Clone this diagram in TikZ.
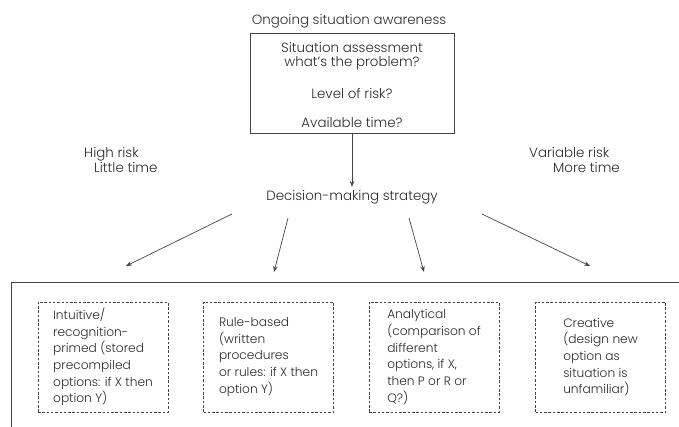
\documentclass[tikz,border=0pt]{standalone}
\usepackage{fontspec}
\setmainfont{Poppins}[UprightFont=* Light]
\usetikzlibrary{arrows.meta}
\definecolor{ink}{HTML}{2A2A2A}
\definecolor{rule}{HTML}{444444}
\tikzset{
  txt/.style={text=ink, inner sep=1pt, font=\fontsize{13.4}{15}\selectfont},
  frame/.style={draw=rule, line width=0.9pt},
  arr/.style={draw=rule, line width=0.7pt, -{Stealth[length=6pt,width=4.5pt]}},
  dbox/.style={draw=rule, line width=0.8pt, dash pattern=on 2.5pt off 1.8pt,
    minimum width=130pt, minimum height=110pt, align=left, text=ink,
    font=\fontsize{12.2}{16.7}\selectfont},
}
\begin{document}
\begin{tikzpicture}[x=1pt,y=-1pt]
\useasboundingbox (0,0) rectangle (679,426);

% heading and assessment box
\node[txt] (title) at (349,21) {Ongoing situation awareness};
\node[frame, minimum width=204pt, minimum height=100pt, inner sep=0pt] (assess) at (352,83) {};
\node[txt] (l1) at (352,48) {Situation assessment};
\node[txt] (l2) at (352,63) {what's the problem?};
\node[txt] (l3) at (352,93) {Level of risk?};
\node[txt] (l4) at (352,123) {Available time?};

% side conditions
\node[txt, align=left, anchor=west] (hi) at (83,160) {High risk\\\hspace{10pt}Little time};
\node[txt, align=left, anchor=west] (var) at (528,160) {Variable risk\\\hspace{24pt}More time};

% strategy node
\node[txt, inner sep=3pt] (dec) at (352,197) {Decision-making strategy};
\draw[arr] (assess.south) -- (dec.north);

% fan of arrows
\coordinate (s1) at (232,214); \coordinate (t1) at (126,266);
\coordinate (s2) at (288,218); \coordinate (t2) at (274,272);
\coordinate (s3) at (409,218); \coordinate (t3) at (424,272);
\coordinate (s4) at (482,214); \coordinate (t4) at (590,266);
\foreach \i in {1,2,3,4} \draw[arr] (s\i) -- (t\i);

% open frame around the strategies
\draw[frame] (11,430) -- (11,282) -- (682,282);

% strategy boxes
\node[dbox] (b1) at (103,357) {Intuitive/\\recognition-\\primed (stored\\precompiled\\options: if X then\\option Y)};
\node[dbox] (b2) at (268.5,357) {Rule-based\\(written\\procedures\\or rules: if X then\\option Y)};
\node[dbox] (b3) at (434,357) {Analytical\\(comparison of\\different\\options, if X,\\then P or R or\\Q?)};
\node[dbox] (b4) at (600.5,357) {Creative\\(design new\\option as\\situation is\\unfamiliar)};
\end{tikzpicture}
\end{document}
